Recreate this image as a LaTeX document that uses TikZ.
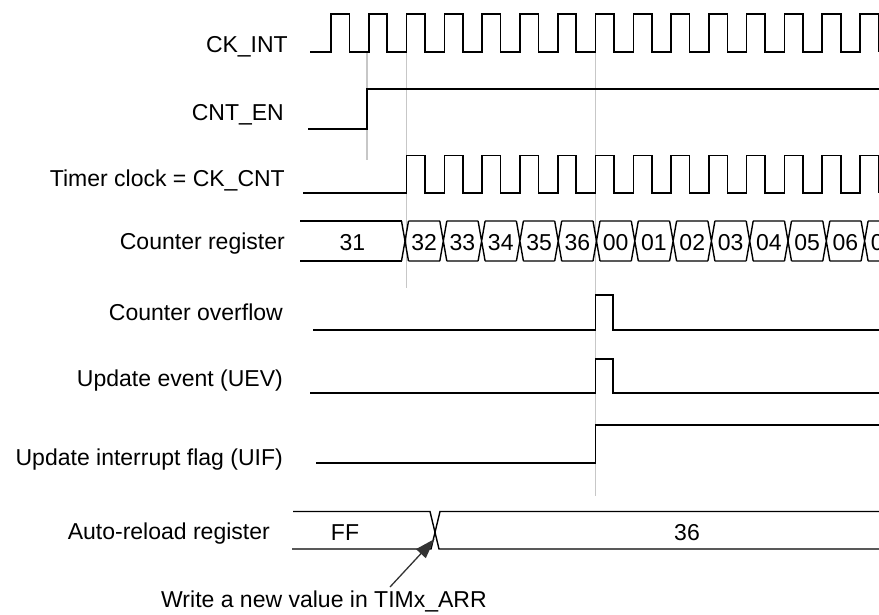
\documentclass[tikz,border=0pt]{standalone}
\usepackage{fontspec}
\setmainfont{Liberation Sans}
\usetikzlibrary{arrows.meta}
\begin{document}
\begin{tikzpicture}[x=1pt,y=-1pt,
  sig/.style={line width=1.6pt, line join=miter, black},
  guide/.style={line width=1.2pt, color=black!22},
  lbl/.style={anchor=base east, inner sep=0pt, font=\fontsize{23}{27}\selectfont},
  val/.style={anchor=base, inner sep=0pt, font=\fontsize{23}{27}\selectfont},
  note/.style={anchor=base west, inner sep=0pt, font=\fontsize{23}{27}\selectfont},
  pointer/.style={line width=1.3pt, color=black!80, -{Triangle[length=20pt,width=13pt]}}]
\useasboundingbox (0,0) rectangle (879,614);
\begin{scope}
\clip (0,0) rectangle (879,614);
% guide lines
\draw[guide] (367,52) -- (367,160);
\draw[guide] (406.6,52) -- (406.6,288);
\draw[guide] (595.4,52) -- (595.4,496);
% labels
\node[lbl] (lck) at (288,52.5) {CK\_INT};
\node[lbl] (len) at (284,120.7) {CNT\_EN};
\node[lbl] (ltc) at (285,186) {Timer clock = CK\_CNT};
\node[lbl] (lcr) at (285,249.3) {Counter register};
\node[lbl] (lov) at (283,320.7) {Counter overflow};
\node[lbl] (luev) at (283,386.7) {Update event (UEV)};
\node[lbl] (luif) at (283,465) {Update interrupt flag (UIF)};
\node[lbl] (larr) at (270,539.3) {Auto-reload register};
% CK_INT
\draw[sig] (310,52) \foreach \k in {0,...,14} {
  -- ({331+37.79*\k},52) -- ({331+37.79*\k},14) -- ({349.5+37.79*\k},14) -- ({349.5+37.79*\k},52) };
% CNT_EN
\draw[sig] (308,129) -- (367,129) -- (367,89) -- (880,89);
% Timer clock
\draw[sig] (303,193) \foreach \k in {2,...,14} {
  -- ({331+37.79*\k},193) -- ({331+37.79*\k},155.5) -- ({349.5+37.79*\k},155.5) -- ({349.5+37.79*\k},193) };
% Counter register
\draw[sig, line width=1.4pt] (300,221) -- (401.5,221) (300,261) -- (401.5,261);
\foreach \k in {0,...,12} {
  \pgfmathsetmacro{\c}{405+38.3*\k}
  \pgfmathsetmacro{\n}{405+38.3*(\k+1)}
  \draw[sig, line width=1.4pt] (\c-3.5,221) -- (\c+3.5,261) (\c-3.5,261) -- (\c+3.5,221)
     (\c+3.5,221) -- (\n-3.5,221) (\c+3.5,261) -- (\n-3.5,261);
}
\node[val] (v31) at (352.5,250) {31};
\foreach \lab [count=\i from 0] in {32,33,34,35,36,00,01,02,03,04,05,06,07} {
  \node[val] (v\i) at ({405+38.3*\i+19.15},250) {\lab};
}
% Counter overflow
\draw[sig] (313,330) -- (595.4,330) -- (595.4,295) -- (613,295) -- (613,330) -- (880,330);
% Update event
\draw[sig] (310,393) -- (595.4,393) -- (595.4,359) -- (613,359) -- (613,393) -- (880,393);
% UIF
\draw[sig] (316,463) -- (595.4,463) -- (595.4,425) -- (880,425);
% Auto-reload register
\draw[sig, line width=1.4pt] (293,511.5) -- (430,511.5) -- (439,549) -- (880,549)
   (292,549) -- (431,549) -- (440,511.5) -- (880,511.5);
\node[val] (vff) at (345,540.7) {FF};
\node[val] (v36) at (687,540.7) {36};
% note and arrow
\node[note] (wnote) at (161,607) {Write a new value in TIMx\_ARR};
\coordinate (tail) at (390,587);
\coordinate (wr) at (434.5,539);
\draw[pointer] (tail) -- (wr);
\end{scope}
\end{tikzpicture}
\end{document}
